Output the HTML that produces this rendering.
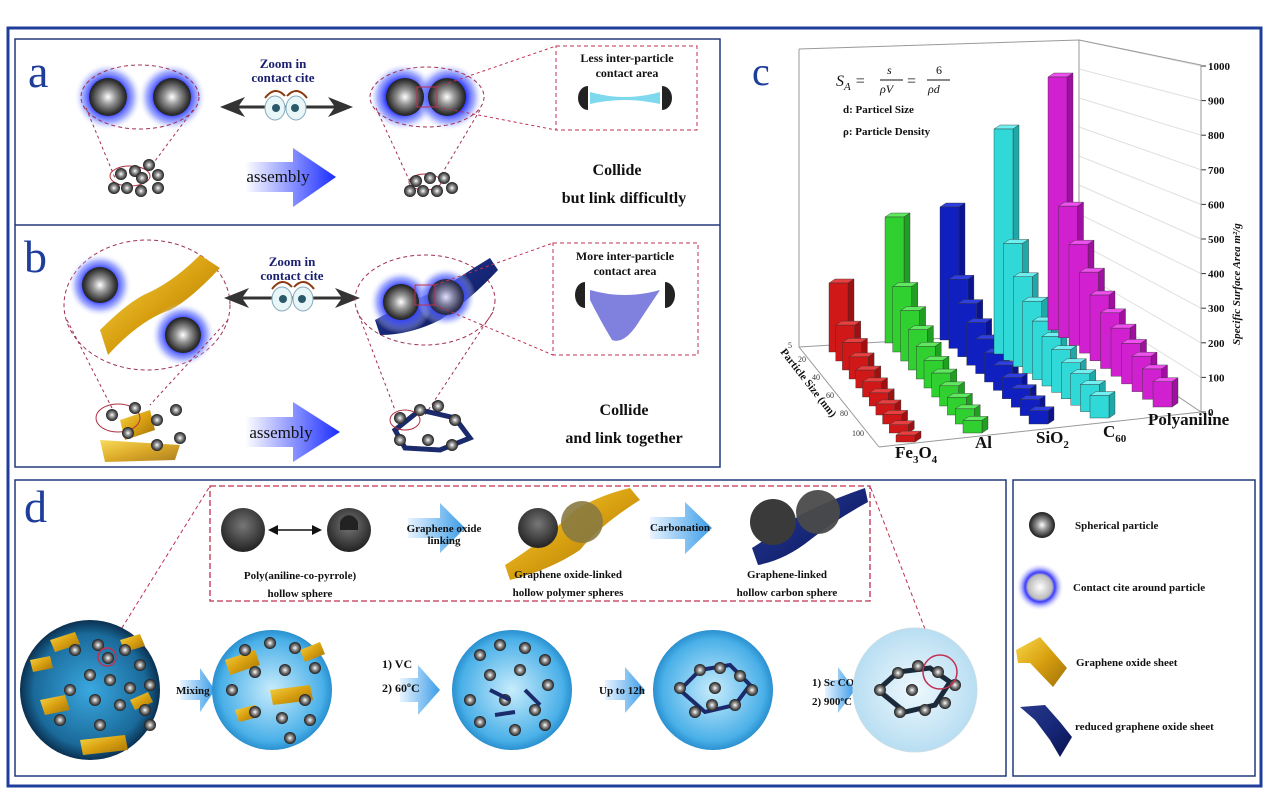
<!DOCTYPE html>
<html><head><meta charset="utf-8"><style>
html,body{margin:0;padding:0;background:#fff;}
svg{display:block;}
text{font-family:"Liberation Serif",serif;}
</style></head><body>
<svg id="s" width="1280" height="811" viewBox="0 0 1280 811" xmlns="http://www.w3.org/2000/svg">
<defs>
<radialGradient id="sp" cx="0.5" cy="0.5" r="0.55"><stop offset="0" stop-color="#fff"/><stop offset="0.35" stop-color="#999"/><stop offset="0.8" stop-color="#333"/><stop offset="1" stop-color="#111"/></radialGradient>
<radialGradient id="dg" cx="0.5" cy="0.4" r="0.6"><stop offset="0" stop-color="#777"/><stop offset="0.6" stop-color="#444"/><stop offset="1" stop-color="#222"/></radialGradient>
<radialGradient id="gl" cx="0.5" cy="0.5" r="0.5"><stop offset="0.5" stop-color="#2a35ff"/><stop offset="0.75" stop-color="#6a7aff" stop-opacity="0.6"/><stop offset="1" stop-color="#fff" stop-opacity="0"/></radialGradient>
<radialGradient id="gw" cx="0.5" cy="0.5" r="0.5"><stop offset="0" stop-color="#fff"/><stop offset="0.5" stop-color="#bbb"/><stop offset="0.62" stop-color="#3a3aff"/><stop offset="1" stop-color="#fff" stop-opacity="0"/></radialGradient>
<linearGradient id="ar" x1="0" x2="1"><stop offset="0" stop-color="#fff"/><stop offset="1" stop-color="#1a2cff"/></linearGradient>
<linearGradient id="ar2" x1="0" x2="1"><stop offset="0" stop-color="#e8f4ff"/><stop offset="1" stop-color="#3a9ce8"/></linearGradient>
<radialGradient id="c1" cx="0.5" cy="0.5" r="0.5"><stop offset="0" stop-color="#3aa8e0"/><stop offset="0.8" stop-color="#1a6a9a"/><stop offset="1" stop-color="#0a3050"/></radialGradient>
<radialGradient id="c2" cx="0.5" cy="0.5" r="0.5"><stop offset="0" stop-color="#c8ecfc"/><stop offset="0.85" stop-color="#4ab0e8"/><stop offset="1" stop-color="#2a90d0"/></radialGradient>
<radialGradient id="c3" cx="0.5" cy="0.5" r="0.5"><stop offset="0" stop-color="#eef8fd"/><stop offset="1" stop-color="#b8def2"/></radialGradient>
<linearGradient id="ye" x1="0" x2="1" y1="0" y2="1"><stop offset="0" stop-color="#f8d84a"/><stop offset="0.5" stop-color="#d8a010"/><stop offset="1" stop-color="#a07008"/></linearGradient>
<linearGradient id="bl" x1="0" x2="1" y1="0" y2="1"><stop offset="0" stop-color="#2a3a8a"/><stop offset="0.5" stop-color="#18287a"/><stop offset="1" stop-color="#0a1450"/></linearGradient>
<g id="ball"><circle r="6" fill="url(#sp)"/></g>
</defs>
<rect width="1280" height="811" fill="#fff"/>
<!-- frames -->
<rect x="8" y="28" width="1253" height="758" fill="none" stroke="#1f3d9a" stroke-width="3"/>
<rect x="15" y="39" width="705" height="428" fill="none" stroke="#233a7a" stroke-width="1.5"/>
<line x1="15" y1="225" x2="720" y2="225" stroke="#233a7a" stroke-width="1.5"/>
<rect x="15" y="480" width="991" height="296" fill="none" stroke="#233a7a" stroke-width="1.5"/>
<rect x="1013" y="480" width="242" height="296" fill="none" stroke="#233a7a" stroke-width="1.5"/>

<!-- panel a -->
<text x="28" y="87" font-size="46" fill="#1f3d9a">a</text>
<circle cx="108" cy="97" r="34" fill="url(#gl)"/><circle cx="172" cy="97" r="34" fill="url(#gl)"/>
<circle cx="108" cy="97" r="19" fill="url(#sp)"/><circle cx="172" cy="97" r="19" fill="url(#sp)"/>
<ellipse cx="140" cy="97" rx="59" ry="32" fill="none" stroke="#a03050" stroke-dasharray="4,3"/>
<line x1="86" y1="108" x2="115" y2="178" stroke="#a03050" stroke-dasharray="3,3"/>
<line x1="193" y1="110" x2="152" y2="165" stroke="#a03050" stroke-dasharray="3,3"/>
<ellipse cx="130" cy="176" rx="20" ry="10" fill="none" stroke="#b03040"/>
<g><use href="#ball" x="121" y="174"/><use href="#ball" x="135" y="171"/><use href="#ball" x="149" y="165"/><use href="#ball" x="142" y="178"/><use href="#ball" x="158" y="175"/><use href="#ball" x="114" y="188"/><use href="#ball" x="127" y="188"/><use href="#ball" x="141" y="191"/><use href="#ball" x="158" y="188"/></g>
<text x="283" y="68" font-size="13" font-weight="bold" fill="#1a1f70" text-anchor="middle">Zoom in</text>
<text x="283" y="82" font-size="13" font-weight="bold" fill="#1a1f70" text-anchor="middle">contact cite</text>
<line x1="228" y1="107" x2="345" y2="107" stroke="#333" stroke-width="3"/>
<polygon points="220,107 245,97 238,107 245,117" fill="#333"/><polygon points="353,107 328,97 335,107 328,117" fill="#333"/>
<ellipse cx="275" cy="108" rx="10" ry="12" fill="#e8f6f8" stroke="#8ab"/><ellipse cx="296" cy="108" rx="10" ry="12" fill="#e8f6f8" stroke="#8ab"/>
<circle cx="276" cy="108" r="4" fill="#2a5a6a"/><circle cx="295" cy="108" r="4" fill="#2a5a6a"/>
<path d="M265 98 Q275 85 285 96 M287 96 Q297 85 307 98" fill="none" stroke="#8a3a10" stroke-width="2"/>
<polygon points="245,162 293,162 293,148 336,177 293,207 293,192 245,192" fill="url(#ar)"/>
<text x="278" y="182" font-size="17" fill="#111" text-anchor="middle">assembly</text>
<circle cx="403" cy="97" r="34" fill="url(#gl)"/><circle cx="449" cy="97" r="34" fill="url(#gl)"/>
<circle cx="405" cy="97" r="19" fill="url(#sp)"/><circle cx="447" cy="97" r="19" fill="url(#sp)"/>
<ellipse cx="427" cy="97" rx="57" ry="30" fill="none" stroke="#a03050" stroke-dasharray="4,3"/>
<rect x="417" y="87" width="20" height="20" fill="none" stroke="#c03050"/>
<line x1="437" y1="87" x2="556" y2="46" stroke="#c03050" stroke-dasharray="3,3"/>
<line x1="437" y1="107" x2="556" y2="130" stroke="#c03050" stroke-dasharray="3,3"/>
<line x1="376" y1="108" x2="410" y2="182" stroke="#a03050" stroke-dasharray="3,3"/>
<line x1="480" y1="110" x2="440" y2="177" stroke="#a03050" stroke-dasharray="3,3"/>
<ellipse cx="425" cy="182" rx="16" ry="8" fill="none" stroke="#b03040"/>
<g><use href="#ball" x="416" y="181"/><use href="#ball" x="430" y="178"/><use href="#ball" x="444" y="178"/><use href="#ball" x="452" y="188"/><use href="#ball" x="410" y="191"/><use href="#ball" x="423" y="191"/><use href="#ball" x="437" y="191"/></g>
<rect x="556" y="46" width="141" height="84" fill="none" stroke="#c03050" stroke-dasharray="4,3"/>
<text x="627" y="62" font-size="12" font-weight="bold" fill="#111" text-anchor="middle">Less inter-particle</text>
<text x="627" y="77" font-size="12" font-weight="bold" fill="#111" text-anchor="middle">contact area</text>
<path d="M590 92 Q625 102 660 92 L660 104 Q625 96 590 104 Z" fill="#7ed8ee"/>
<path d="M588 86 a10 12 0 0 0 0 24 z" fill="#222"/><path d="M662 86 a10 12 0 0 1 0 24 z" fill="#222"/>
<text x="617" y="175" font-size="16" font-weight="bold" fill="#111" text-anchor="middle">Collide</text>
<text x="624" y="203" font-size="16" font-weight="bold" fill="#111" text-anchor="middle">but link difficultly</text>

<!-- panel b -->
<text x="24" y="272" font-size="46" fill="#1f3d9a">b</text>
<ellipse cx="147" cy="305" rx="83" ry="65" fill="none" stroke="#a03050" stroke-dasharray="4,3"/>
<path d="M100 330 Q130 300 150 292 Q175 280 200 255 L220 268 Q190 300 170 310 Q140 320 108 355 Z" fill="url(#ye)"/>
<circle cx="100" cy="285" r="32" fill="url(#gl)"/><circle cx="183" cy="335" r="32" fill="url(#gl)"/>
<circle cx="100" cy="285" r="18" fill="url(#sp)"/><circle cx="183" cy="335" r="18" fill="url(#sp)"/>
<line x1="67" y1="320" x2="112" y2="408" stroke="#a03050" stroke-dasharray="3,3"/>
<line x1="228" y1="320" x2="150" y2="405" stroke="#a03050" stroke-dasharray="3,3"/>
<path d="M100 440 L180 445 L175 460 L105 462 Z" fill="url(#ye)" opacity="0.9"/>
<path d="M120 420 L150 410 L155 430 L125 440 Z" fill="url(#ye)"/>
<ellipse cx="118" cy="418" rx="22" ry="14" fill="none" stroke="#b03040"/>
<g><use href="#ball" x="112" y="415"/><use href="#ball" x="135" y="408"/><use href="#ball" x="157" y="420"/><use href="#ball" x="176" y="410"/><use href="#ball" x="128" y="433"/><use href="#ball" x="180" y="438"/><use href="#ball" x="157" y="445"/></g>
<text x="292" y="266" font-size="13" font-weight="bold" fill="#1a1f70" text-anchor="middle">Zoom in</text>
<text x="292" y="280" font-size="13" font-weight="bold" fill="#1a1f70" text-anchor="middle">contact cite</text>
<line x1="232" y1="298" x2="352" y2="298" stroke="#333" stroke-width="3"/>
<polygon points="224,298 249,288 242,298 249,308" fill="#333"/><polygon points="360,298 335,288 342,298 335,308" fill="#333"/>
<ellipse cx="282" cy="299" rx="10" ry="12" fill="#e8f6f8" stroke="#8ab"/><ellipse cx="303" cy="299" rx="10" ry="12" fill="#e8f6f8" stroke="#8ab"/>
<circle cx="283" cy="299" r="4" fill="#2a5a6a"/><circle cx="302" cy="299" r="4" fill="#2a5a6a"/>
<path d="M272 289 Q282 276 292 287 M294 287 Q304 276 314 289" fill="none" stroke="#8a3a10" stroke-width="2"/>
<polygon points="245,417 293,417 293,402 340,432 293,462 293,447 245,447" fill="url(#ar)"/>
<text x="281" y="438" font-size="17" fill="#111" text-anchor="middle">assembly</text>
<ellipse cx="425" cy="300" rx="70" ry="45" fill="none" stroke="#a03050" stroke-dasharray="4,3"/>
<path d="M375 320 Q410 300 440 290 Q470 270 490 258 L498 270 Q470 300 440 320 Q410 335 380 335 Z" fill="url(#bl)"/>
<circle cx="401" cy="302" r="32" fill="url(#gl)"/><circle cx="446" cy="297" r="30" fill="url(#gl)"/>
<circle cx="401" cy="302" r="18" fill="url(#sp)"/><circle cx="446" cy="297" r="18" fill="url(#sp)" opacity="0.85"/>
<rect x="415" y="285" width="20" height="20" fill="none" stroke="#c03050"/>
<line x1="435" y1="285" x2="553" y2="243" stroke="#c03050" stroke-dasharray="3,3"/>
<line x1="435" y1="305" x2="553" y2="355" stroke="#c03050" stroke-dasharray="3,3"/>
<line x1="357" y1="310" x2="395" y2="410" stroke="#a03050" stroke-dasharray="3,3"/>
<line x1="493" y1="312" x2="425" y2="415" stroke="#a03050" stroke-dasharray="3,3"/>
<path d="M395 430 L420 410 L455 418 L470 438 L440 450 L405 448 Z" fill="none" stroke="#1a2a6a" stroke-width="5"/>
<ellipse cx="405" cy="420" rx="15" ry="10" fill="none" stroke="#b03040"/>
<g><use href="#ball" x="400" y="418"/><use href="#ball" x="420" y="410"/><use href="#ball" x="438" y="406"/><use href="#ball" x="455" y="420"/><use href="#ball" x="400" y="440"/><use href="#ball" x="428" y="440"/><use href="#ball" x="452" y="445"/></g>
<rect x="553" y="243" width="145" height="112" fill="none" stroke="#c03050" stroke-dasharray="4,3"/>
<text x="625" y="260" font-size="12" font-weight="bold" fill="#111" text-anchor="middle">More inter-particle</text>
<text x="625" y="275" font-size="12" font-weight="bold" fill="#111" text-anchor="middle">contact area</text>
<path d="M590 290 Q625 300 660 290 L640 320 Q625 345 612 340 Q600 320 590 300 Z" fill="#6a6ad8" opacity="0.85"/>
<path d="M585 282 a10 13 0 0 0 0 26 z" fill="#222"/><path d="M665 282 a10 13 0 0 1 0 26 z" fill="#222"/>
<text x="624" y="415" font-size="16" font-weight="bold" fill="#111" text-anchor="middle">Collide</text>
<text x="624" y="443" font-size="16" font-weight="bold" fill="#111" text-anchor="middle">and link together</text>

<!-- panel c -->
<text x="752" y="85" font-size="40" fill="#1f3d9a">c</text>
<g stroke="#e0e0e0" stroke-width="1" id="grid"></g>
<g stroke="#999" stroke-width="1" fill="none">
<polyline points="799,49 799,347 879,447"/>
<polyline points="799,49 1079,40 1201,65 1201,412 879,447"/>
<line x1="1079" y1="40" x2="1079" y2="330"/>
<line x1="799" y1="347" x2="1079" y2="330"/>
<line x1="1079" y1="330" x2="1201" y2="412"/>
</g>
<g id="bars"></g>
<g font-size="11" font-weight="bold" fill="#111" id="ticks"></g>
<g font-size="8" fill="#333">
<text x="788" y="348">5</text><text x="798" y="362">20</text><text x="812" y="380">40</text><text x="826" y="398">60</text><text x="840" y="416">80</text><text x="852" y="436">100</text>
</g>
<text font-size="16" font-style="italic" x="836" y="86" fill="#111">S<tspan font-size="11" dy="4">A</tspan><tspan dy="-4"> = </tspan></text>
<text font-size="12" font-style="italic" x="887" y="74" fill="#111">s</text><line x1="880" y1="80" x2="903" y2="80" stroke="#111"/><text font-size="12" font-style="italic" x="880" y="93" fill="#111">ρV</text>
<text font-size="16" x="907" y="86" fill="#111">=</text>
<text font-size="12" x="936" y="74" fill="#111">6</text><line x1="927" y1="80" x2="950" y2="80" stroke="#111"/><text font-size="12" font-style="italic" x="928" y="93" fill="#111">ρd</text>
<text x="843" y="113" font-size="11" font-weight="bold" fill="#111">d: Particel Size</text>
<text x="843" y="135" font-size="11" font-weight="bold" fill="#111">ρ: Particle Density</text>
<text transform="translate(1240,345) rotate(-90)" font-size="11" font-weight="bold" font-style="italic" fill="#111">Specific Surface Area  m²/g</text>
<text transform="translate(780,352) rotate(52)" font-size="11" font-weight="bold" fill="#111">Particle Size (nm)</text>
<text x="895" y="458" font-size="17" font-weight="bold" fill="#111">Fe<tspan font-size="11" dy="5">3</tspan><tspan dy="-5">O</tspan><tspan font-size="11" dy="5">4</tspan></text>
<text x="975" y="448" font-size="17" font-weight="bold" fill="#111">Al</text>
<text x="1036" y="443" font-size="17" font-weight="bold" fill="#111">SiO<tspan font-size="11" dy="5">2</tspan></text>
<text x="1103" y="437" font-size="17" font-weight="bold" fill="#111">C<tspan font-size="11" dy="5">60</tspan></text>
<text x="1148" y="425" font-size="17" font-weight="bold" fill="#111">Polyaniline</text>

<!-- panel d -->
<text x="24" y="522" font-size="46" fill="#1f3d9a">d</text>
<rect x="210" y="486" width="660" height="115" fill="none" stroke="#c03050" stroke-dasharray="6,3" stroke-width="1.3"/>
<line x1="107" y1="652" x2="210" y2="486" stroke="#c03050" stroke-dasharray="4,3"/>
<line x1="940" y1="668" x2="870" y2="486" stroke="#c03050" stroke-dasharray="4,3"/>
<circle cx="243" cy="530" r="22" fill="url(#dg)"/><circle cx="349" cy="530" r="22" fill="url(#dg)"/>
<path d="M340 522 a10 12 0 0 1 18 0 l0 8 l-18 0z" fill="#222"/>
<line x1="272" y1="530" x2="318" y2="530" stroke="#111" stroke-width="1.5"/>
<polygon points="268,530 278,525 278,535" fill="#111"/><polygon points="322,530 312,525 312,535" fill="#111"/>
<text x="300" y="579" font-size="11" font-weight="bold" fill="#111" text-anchor="middle">Poly(aniline-co-pyrrole)</text>
<text x="300" y="597" font-size="11" font-weight="bold" fill="#111" text-anchor="middle">hollow sphere</text>
<polygon points="408,518 440,518 440,503 465,528 440,553 440,538 408,538" fill="url(#ar2)"/>
<text x="444" y="532" font-size="11" font-weight="bold" fill="#111" text-anchor="middle">Graphene oxide</text>
<text x="444" y="544" font-size="11" font-weight="bold" fill="#111" text-anchor="middle">linking</text>
<path d="M505 565 Q545 540 575 510 Q600 495 630 488 L640 500 Q600 525 580 550 Q550 570 510 580 Z" fill="url(#ye)"/>
<circle cx="538" cy="528" r="20" fill="url(#dg)"/><circle cx="582" cy="522" r="21" fill="#8a7a40" opacity="0.9"/>
<text x="568" y="578" font-size="11" font-weight="bold" fill="#111" text-anchor="middle">Graphene oxide-linked</text>
<text x="568" y="596" font-size="11" font-weight="bold" fill="#111" text-anchor="middle">hollow polymer spheres</text>
<polygon points="650,517 685,517 685,502 712,528 685,554 685,539 650,539" fill="url(#ar2)"/>
<text x="680" y="531" font-size="11" font-weight="bold" fill="#111" text-anchor="middle">Carbonation</text>
<path d="M752 548 Q780 530 800 515 Q830 500 865 488 L868 502 Q835 520 810 540 Q785 560 758 565 Z" fill="url(#bl)"/>
<circle cx="773" cy="522" r="23" fill="#3a3a3a"/><circle cx="818" cy="512" r="22" fill="#4a4a4a" opacity="0.95"/>
<text x="787" y="578" font-size="11" font-weight="bold" fill="#111" text-anchor="middle">Graphene-linked</text>
<text x="787" y="596" font-size="11" font-weight="bold" fill="#111" text-anchor="middle">hollow carbon sphere</text>
<!-- bottom row -->
<circle cx="90" cy="690" r="70" fill="url(#c1)"/>
<g fill="url(#ye)"><path d="M50 640 l25 -8 l5 12 l-25 8z"/><path d="M120 640 l20 -6 l5 12 l-20 6z"/><path d="M40 700 l25 -5 l5 15 l-25 5z"/><path d="M80 740 l45 -5 l3 15 l-45 5z"/><path d="M30 660 l20 -4 l3 12 l-20 4z"/><path d="M130 700 l18 -8 l5 10 l-18 8z"/></g>
<g><use href="#ball" x="75" y="650"/><use href="#ball" x="98" y="645"/><use href="#ball" x="108" y="658"/><use href="#ball" x="125" y="650"/><use href="#ball" x="140" y="665"/><use href="#ball" x="90" y="675"/><use href="#ball" x="110" y="680"/><use href="#ball" x="130" y="688"/><use href="#ball" x="150" y="685"/><use href="#ball" x="70" y="690"/><use href="#ball" x="95" y="700"/><use href="#ball" x="120" y="705"/><use href="#ball" x="145" y="710"/><use href="#ball" x="60" y="720"/><use href="#ball" x="100" y="725"/><use href="#ball" x="150" y="725"/></g>
<circle cx="107" cy="657" r="9" fill="none" stroke="#c03050" stroke-width="1.5"/>
<polygon points="180,680 200,680 200,668 215,690 200,712 200,700 180,700" fill="url(#ar2)"/>
<text x="176" y="694" font-size="11" font-weight="bold" fill="#111">Mixing</text>
<circle cx="272" cy="690" r="60" fill="url(#c2)"/>
<g fill="url(#ye)"><path d="M225 660 l30 -10 l5 15 l-30 10z"/><path d="M270 690 l40 -5 l3 15 l-40 5z"/><path d="M300 650 l20 -8 l5 12 l-20 8z"/><path d="M235 710 l20 -5 l4 12 l-20 5z"/></g>
<g><use href="#ball" x="245" y="650"/><use href="#ball" x="270" y="643"/><use href="#ball" x="295" y="648"/><use href="#ball" x="315" y="668"/><use href="#ball" x="255" y="672"/><use href="#ball" x="285" y="670"/><use href="#ball" x="232" y="690"/><use href="#ball" x="305" y="700"/><use href="#ball" x="255" y="712"/><use href="#ball" x="282" y="718"/><use href="#ball" x="310" y="720"/><use href="#ball" x="290" y="738"/></g>
<polygon points="400,678 418,678 418,665 440,690 418,715 418,702 400,702" fill="url(#ar2)"/>
<text x="382" y="668" font-size="12" font-weight="bold" fill="#111">1) VC</text>
<text x="382" y="692" font-size="12" font-weight="bold" fill="#111">2) 60ºC</text>
<circle cx="512" cy="690" r="60" fill="url(#c2)"/>
<g><use href="#ball" x="480" y="655"/><use href="#ball" x="500" y="645"/><use href="#ball" x="525" y="648"/><use href="#ball" x="545" y="660"/><use href="#ball" x="490" y="675"/><use href="#ball" x="520" y="670"/><use href="#ball" x="548" y="685"/><use href="#ball" x="470" y="700"/><use href="#ball" x="505" y="700"/><use href="#ball" x="535" y="710"/><use href="#ball" x="480" y="722"/><use href="#ball" x="515" y="730"/><use href="#ball" x="545" y="725"/></g>
<g stroke="#1a2a6a" stroke-width="4"><line x1="490" y1="690" x2="510" y2="700"/><line x1="525" y1="690" x2="540" y2="705"/><line x1="495" y1="715" x2="515" y2="712"/></g>
<polygon points="605,680 625,680 625,667 645,690 625,713 625,700 605,700" fill="url(#ar2)"/>
<text x="599" y="694" font-size="11" font-weight="bold" fill="#111">Up to 12h</text>
<circle cx="713" cy="690" r="60" fill="url(#c2)"/>
<path d="M680 690 L700 670 L730 665 L750 685 L735 705 L705 712 Z" fill="none" stroke="#1a2a6a" stroke-width="4"/>
<g><use href="#ball" x="680" y="688"/><use href="#ball" x="700" y="670"/><use href="#ball" x="720" y="668"/><use href="#ball" x="740" y="676"/><use href="#ball" x="752" y="690"/><use href="#ball" x="735" y="705"/><use href="#ball" x="712" y="705"/><use href="#ball" x="695" y="712"/><use href="#ball" x="715" y="688"/></g>
<polygon points="825,680 838,680 838,667 855,690 838,713 838,700 825,700" fill="url(#ar2)"/>
<text x="812" y="686" font-size="11" font-weight="bold" fill="#111">1) Sc CO<tspan font-size="8" dy="3">2</tspan></text>
<text x="812" y="705" font-size="11" font-weight="bold" fill="#111">2) 900ºC</text>
<circle cx="915" cy="690" r="62" fill="url(#c3)" stroke="#c8dde8"/>
<path d="M878 690 L898 672 L930 668 L950 682 L935 705 L905 712 Z" fill="none" stroke="#1a2a3a" stroke-width="5"/>
<g><use href="#ball" x="880" y="690"/><use href="#ball" x="898" y="673"/><use href="#ball" x="918" y="666"/><use href="#ball" x="938" y="672"/><use href="#ball" x="955" y="685"/><use href="#ball" x="945" y="703"/><use href="#ball" x="925" y="710"/><use href="#ball" x="900" y="712"/><use href="#ball" x="912" y="690"/></g>
<circle cx="940" cy="672" r="17" fill="none" stroke="#c03050" stroke-width="1.5"/>

<!-- legend -->
<circle cx="1042" cy="525" r="13" fill="url(#sp)"/>
<text x="1075" y="529" font-size="11" font-weight="bold" fill="#111">Spherical particle</text>
<circle cx="1040" cy="587" r="24" fill="url(#gw)"/>
<text x="1073" y="591" font-size="11" font-weight="bold" fill="#111">Contact cite around particle</text>
<path d="M1016 650 L1040 637 L1067 668 L1053 687 L1030 663 L1018 663 Z" fill="url(#ye)"/>
<text x="1076" y="666" font-size="11" font-weight="bold" fill="#111">Graphene oxide sheet</text>
<path d="M1020 707 L1045 705 L1060 722 L1072 737 L1060 757 L1050 740 L1035 720 Z" fill="url(#bl)"/>
<text x="1075" y="730" font-size="11" font-weight="bold" fill="#111">reduced graphene oxide sheet</text>
</svg>
<script>
(function(){
var NS="http://www.w3.org/2000/svg";
function el(t,a,p){var e=document.createElementNS(NS,t);for(var k in a)e.setAttribute(k,a[k]);p.appendChild(e);return e;}
var grid=document.getElementById("grid"),bars=document.getElementById("bars"),ticks=document.getElementById("ticks");
for(var v=0;v<=1000;v+=100){var y=412-v*0.346;el("line",{x1:1079,y1:330-v*0.29,x2:1201,y2:y},grid);el("line",{x1:1201,y1:y,x2:1206,y2:y,stroke:"#333"},grid);var t=el("text",{x:1208,y:y+4},ticks);t.textContent=v;}
// color, side, top, x0, base0, top0, xN, baseN
var S=[["#d01818","#a01010","#e84040",829,352,283,896,442],
["#30d030","#20a020","#60e860",885,343,217,963,433],
["#1020c0","#0a1490","#3040e0",940,340,207,1029,424],
["#30d8d8","#20a8a8","#70f0f0",994,354,129,1090,418],
["#d020d0","#a010a0","#f050f0",1048,330,77,1153,407]];
var f=[1,.52,.4,.32,.26,.22,.19,.16,.14,.12,.1];
for(var s=0;s<S.length;s++){var c=S[s];var H0=c[4]-c[5];
for(var i=0;i<11;i++){var x=c[3]+i*(c[6]-c[3])/10,b=c[4]+i*(c[7]-c[4])/10,h=H0*f[i];
var w=19,dx=6,dy=-4,top=b-h;
el("polygon",{points:x+","+top+" "+(x+dx)+","+(top+dy)+" "+(x+w+dx)+","+(top+dy)+" "+(x+w)+","+top,fill:c[2],stroke:"#333","stroke-width":.4},bars);
el("polygon",{points:(x+w)+","+top+" "+(x+w+dx)+","+(top+dy)+" "+(x+w+dx)+","+(b+dy)+" "+(x+w)+","+b,fill:c[1],stroke:"#333","stroke-width":.4},bars);
el("rect",{x:x,y:top,width:w,height:h,fill:c[0],stroke:"#333","stroke-width":.4},bars);}}
})();
</script>
</body></html>
